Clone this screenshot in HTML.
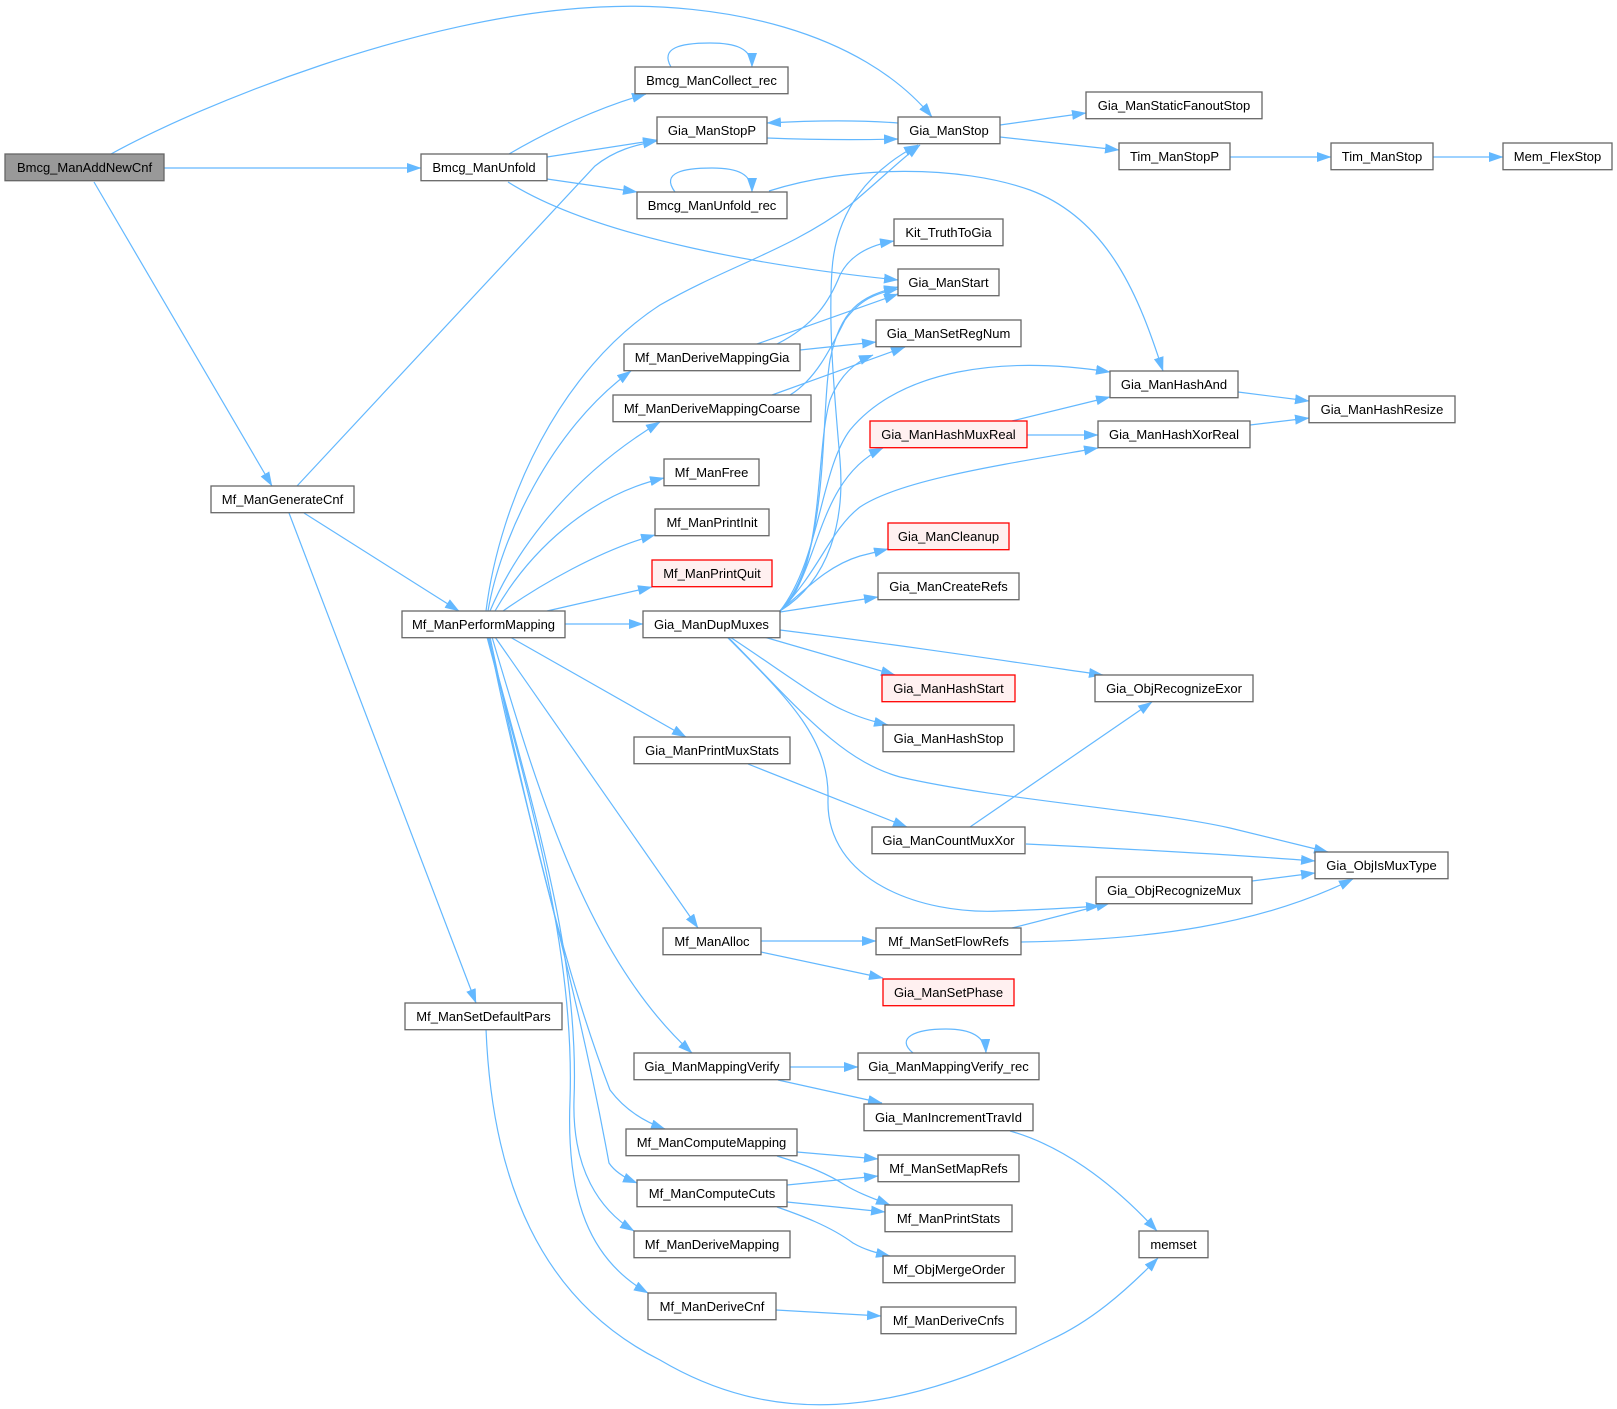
<!DOCTYPE html>
<html><head><meta charset="utf-8"><style>
html,body{margin:0;padding:0;background:#fff;}
svg{display:block;}
text{font-family:"Liberation Sans",Arial,Helvetica,sans-serif;font-size:13px;fill:#000;text-anchor:middle;}
.e{fill:none;stroke:#63b8ff;stroke-width:1.2;marker-end:url(#a);}
.n{fill:#fff;stroke:#666;stroke-width:1.3;}
.r{fill:#fff0f0;stroke:#ff0000;stroke-width:1.3;}
.g{fill:#999;stroke:#666;stroke-width:1.3;}
</style></head><body>
<svg width="1617" height="1409" viewBox="0 0 1617 1409" xmlns="http://www.w3.org/2000/svg">
<defs><marker id="a" markerUnits="userSpaceOnUse" markerWidth="15" markerHeight="11" refX="14" refY="5" orient="auto"><path d="M0,0 L14.5,5 L0,10 z" fill="#63b8ff"/></marker></defs>
<rect width="1617" height="1409" fill="#fff"/>
<g>
<path class="e" d="M111,154 C200,105 420,15 600,7 C720,1 860,30 932,117"/>
<path class="e" d="M164,168 L421,168"/>
<path class="e" d="M94,182 L272,486"/>
<path class="e" d="M509,154 C550,130 600,107 646,94"/>
<path class="e" d="M547,157 L657,140"/>
<path class="e" d="M547,179 L637,192"/>
<path class="e" d="M508,182 C600,240 780,268 898,280"/>
<path class="e" d="M297,486 L595,166 C615,150 635,145 657,141"/>
<path class="e" d="M304,513 L459,611"/>
<path class="e" d="M289,513 L476,1003"/>
<path class="e" d="M486,1029 C492,1180 540,1300 660,1360 C770,1425 890,1420 1050,1340 C1090,1322 1125,1292 1158,1258"/>
<path class="e" d="M671,67 C660,48 680,43 710,43 C735,43 752,48 752,67"/>
<path class="e" d="M675,192 C660,172 685,168 712,168 C738,168 752,174 752,192"/>
<path class="e" d="M767,138 C820,140 860,140 898,139"/>
<path class="e" d="M898,123 C860,120 820,120 767,123"/>
<path class="e" d="M1000,125 L1086,113"/>
<path class="e" d="M1000,137 L1119,150"/>
<path class="e" d="M1230,157 L1331,157"/>
<path class="e" d="M1433,157 L1503,157"/>
<path class="e" d="M769,191 C850,165 960,165 1030,190 C1110,220 1140,300 1163,371"/>
<path class="e" d="M1238,392 L1309,401"/>
<path class="e" d="M1250,425 L1309,418"/>
<path class="e" d="M1012,421 L1110,397"/>
<path class="e" d="M1027,435 L1098,435"/>
<path class="e" d="M777,344 C815,325 830,300 840,275 C850,255 870,245 894,241"/>
<path class="e" d="M757,344 L898,294"/>
<path class="e" d="M800,350 L876,342"/>
<path class="e" d="M772,395 L905,347"/>
<path class="e" d="M790,395 C815,380 830,350 845,320 C860,300 875,293 898,289"/>
<path class="e" d="M488,611 C500,540 550,430 631,371"/>
<path class="e" d="M490,611 C520,540 580,470 660,422"/>
<path class="e" d="M495,611 C530,550 590,495 664,478"/>
<path class="e" d="M503,611 C540,585 600,550 655,535"/>
<path class="e" d="M547,611 L652,587"/>
<path class="e" d="M486,611 C500,500 560,370 660,305 C730,265 790,250 850,205 C880,180 900,160 920,145"/>
<path class="e" d="M565,624 L643,624"/>
<path class="e" d="M510,637 L686,737"/>
<path class="e" d="M495,637 L698,928"/>
<path class="e" d="M492,637 C540,800 590,960 692,1053"/>
<path class="e" d="M490,637 C520,780 560,960 610,1090 C625,1110 645,1122 665,1129"/>
<path class="e" d="M489,637 C520,800 570,950 609,1163 C615,1172 625,1178 637,1183"/>
<path class="e" d="M488,637 C530,800 580,950 574,1100 C572,1170 600,1210 634,1231"/>
<path class="e" d="M487,637 C530,800 575,950 570,1100 C566,1200 590,1260 648,1293"/>
<path class="e" d="M780,611 C830,580 845,520 840,460 C835,400 828,330 832,270 C836,210 870,170 918,145"/>
<path class="e" d="M780,611 C830,560 820,420 830,360 C840,310 860,296 898,287"/>
<path class="e" d="M780,611 C825,575 815,450 830,400 C840,375 855,362 873,355"/>
<path class="e" d="M780,611 C820,560 820,470 850,430 C900,370 1000,355 1110,372"/>
<path class="e" d="M780,611 C820,575 815,480 883,448"/>
<path class="e" d="M780,611 C820,570 830,530 860,507 C900,480 1000,465 1098,448"/>
<path class="e" d="M780,611 C810,585 830,565 860,556 L888,549"/>
<path class="e" d="M780,612 L878,597"/>
<path class="e" d="M764,637 L895,675"/>
<path class="e" d="M730,637 C780,670 820,700 843,710 C860,718 875,722 888,725"/>
<path class="e" d="M780,630 C900,645 1000,660 1103,675"/>
<path class="e" d="M728,637 C800,710 840,760 900,777 C1000,800 1150,810 1230,828 L1328,852"/>
<path class="e" d="M727,637 C790,700 830,740 828,800 C826,880 920,915 1000,911 C1040,910 1070,908 1100,906"/>
<path class="e" d="M748,764 L907,827"/>
<path class="e" d="M970,827 L1152,702"/>
<path class="e" d="M1026,844 C1150,850 1250,856 1315,861"/>
<path class="e" d="M1252,881 L1315,873"/>
<path class="e" d="M761,941 L876,941"/>
<path class="e" d="M761,952 L883,978"/>
<path class="e" d="M1012,928 L1110,903"/>
<path class="e" d="M1021,942 C1150,940 1260,925 1353,879"/>
<path class="e" d="M790,1067 L858,1067"/>
<path class="e" d="M778,1080 L882,1103"/>
<path class="e" d="M913,1053 C895,1038 915,1029 946,1029 C968,1029 985,1035 986,1053"/>
<path class="e" d="M1010,1131 C1060,1145 1110,1180 1157,1231"/>
<path class="e" d="M797,1152 L878,1159"/>
<path class="e" d="M777,1156 C800,1163 825,1172 845,1185 C860,1194 875,1199 890,1205"/>
<path class="e" d="M787,1185 L878,1176"/>
<path class="e" d="M787,1202 L885,1212"/>
<path class="e" d="M777,1207 C800,1215 830,1226 853,1243 C865,1250 877,1253 890,1256"/>
<path class="e" d="M776,1310 L881,1316"/>
</g>
<g>
<rect class="g" x="5" y="154" width="159" height="26.7"/><text x="84.5" y="172">Bmcg_ManAddNewCnf</text>
<rect class="n" x="421" y="154" width="126" height="26.7"/><text x="484" y="172">Bmcg_ManUnfold</text>
<rect class="n" x="635" y="67" width="153" height="26.7"/><text x="711.5" y="85">Bmcg_ManCollect_rec</text>
<rect class="n" x="657" y="117" width="110" height="26.7"/><text x="712" y="135">Gia_ManStopP</text>
<rect class="n" x="898" y="117" width="102" height="26.7"/><text x="949" y="135">Gia_ManStop</text>
<rect class="n" x="637" y="192" width="150" height="26.7"/><text x="712" y="210">Bmcg_ManUnfold_rec</text>
<rect class="n" x="1086" y="92" width="176" height="26.7"/><text x="1174" y="110">Gia_ManStaticFanoutStop</text>
<rect class="n" x="1119" y="143" width="111" height="26.7"/><text x="1174.5" y="161">Tim_ManStopP</text>
<rect class="n" x="1331" y="143" width="102" height="26.7"/><text x="1382" y="161">Tim_ManStop</text>
<rect class="n" x="1503" y="143" width="109" height="26.7"/><text x="1557.5" y="161">Mem_FlexStop</text>
<rect class="n" x="894" y="219" width="109" height="26.7"/><text x="948.5" y="237">Kit_TruthToGia</text>
<rect class="n" x="898" y="269" width="101" height="26.7"/><text x="948.5" y="287">Gia_ManStart</text>
<rect class="n" x="876" y="320" width="145" height="26.7"/><text x="948.5" y="338">Gia_ManSetRegNum</text>
<rect class="n" x="624" y="344" width="176" height="26.7"/><text x="712" y="362">Mf_ManDeriveMappingGia</text>
<rect class="n" x="613" y="395" width="198" height="26.7"/><text x="712" y="413">Mf_ManDeriveMappingCoarse</text>
<rect class="n" x="1110" y="371" width="128" height="26.7"/><text x="1174" y="389">Gia_ManHashAnd</text>
<rect class="n" x="1309" y="396" width="146" height="26.7"/><text x="1382" y="414">Gia_ManHashResize</text>
<rect class="r" x="870" y="421" width="157" height="26.7"/><text x="948.5" y="439">Gia_ManHashMuxReal</text>
<rect class="n" x="1098" y="421" width="152" height="26.7"/><text x="1174" y="439">Gia_ManHashXorReal</text>
<rect class="n" x="664" y="459" width="95" height="26.7"/><text x="711.5" y="477">Mf_ManFree</text>
<rect class="n" x="211" y="486" width="143" height="26.7"/><text x="282.5" y="504">Mf_ManGenerateCnf</text>
<rect class="n" x="655" y="509" width="114" height="26.7"/><text x="712" y="527">Mf_ManPrintInit</text>
<rect class="r" x="888" y="523" width="121" height="26.7"/><text x="948.5" y="541">Gia_ManCleanup</text>
<rect class="r" x="652" y="560" width="120" height="26.7"/><text x="712" y="578">Mf_ManPrintQuit</text>
<rect class="n" x="878" y="573" width="141" height="26.7"/><text x="948.5" y="591">Gia_ManCreateRefs</text>
<rect class="n" x="402" y="611" width="163" height="26.7"/><text x="483.5" y="629">Mf_ManPerformMapping</text>
<rect class="n" x="643" y="611" width="137" height="26.7"/><text x="711.5" y="629">Gia_ManDupMuxes</text>
<rect class="r" x="882" y="675" width="133" height="26.7"/><text x="948.5" y="693">Gia_ManHashStart</text>
<rect class="n" x="1095" y="675" width="158" height="26.7"/><text x="1174" y="693">Gia_ObjRecognizeExor</text>
<rect class="n" x="883" y="725" width="131" height="26.7"/><text x="948.5" y="743">Gia_ManHashStop</text>
<rect class="n" x="634" y="737" width="156" height="26.7"/><text x="712" y="755">Gia_ManPrintMuxStats</text>
<rect class="n" x="872" y="827" width="153" height="26.7"/><text x="948.5" y="845">Gia_ManCountMuxXor</text>
<rect class="n" x="1315" y="852" width="133" height="26.7"/><text x="1381.5" y="870">Gia_ObjIsMuxType</text>
<rect class="n" x="1096" y="877" width="156" height="26.7"/><text x="1174" y="895">Gia_ObjRecognizeMux</text>
<rect class="n" x="663" y="928" width="98" height="26.7"/><text x="712" y="946">Mf_ManAlloc</text>
<rect class="n" x="876" y="928" width="145" height="26.7"/><text x="948.5" y="946">Mf_ManSetFlowRefs</text>
<rect class="r" x="883" y="979" width="131" height="26.7"/><text x="948.5" y="997">Gia_ManSetPhase</text>
<rect class="n" x="405" y="1003" width="157" height="26.7"/><text x="483.5" y="1021">Mf_ManSetDefaultPars</text>
<rect class="n" x="634" y="1053" width="156" height="26.7"/><text x="712" y="1071">Gia_ManMappingVerify</text>
<rect class="n" x="858" y="1053" width="181" height="26.7"/><text x="948.5" y="1071">Gia_ManMappingVerify_rec</text>
<rect class="n" x="864" y="1104" width="169" height="26.7"/><text x="948.5" y="1122">Gia_ManIncrementTravId</text>
<rect class="n" x="626" y="1129" width="171" height="26.7"/><text x="711.5" y="1147">Mf_ManComputeMapping</text>
<rect class="n" x="878" y="1155" width="141" height="26.7"/><text x="948.5" y="1173">Mf_ManSetMapRefs</text>
<rect class="n" x="637" y="1180" width="150" height="26.7"/><text x="712" y="1198">Mf_ManComputeCuts</text>
<rect class="n" x="885" y="1205" width="127" height="26.7"/><text x="948.5" y="1223">Mf_ManPrintStats</text>
<rect class="n" x="1139" y="1231" width="69" height="26.7"/><text x="1173.5" y="1249">memset</text>
<rect class="n" x="634" y="1231" width="156" height="26.7"/><text x="712" y="1249">Mf_ManDeriveMapping</text>
<rect class="n" x="883" y="1256" width="132" height="26.7"/><text x="949" y="1274">Mf_ObjMergeOrder</text>
<rect class="n" x="648" y="1293" width="128" height="26.7"/><text x="712" y="1311">Mf_ManDeriveCnf</text>
<rect class="n" x="881" y="1307" width="135" height="26.7"/><text x="948.5" y="1325">Mf_ManDeriveCnfs</text>
</g>
</svg>
</body></html>
